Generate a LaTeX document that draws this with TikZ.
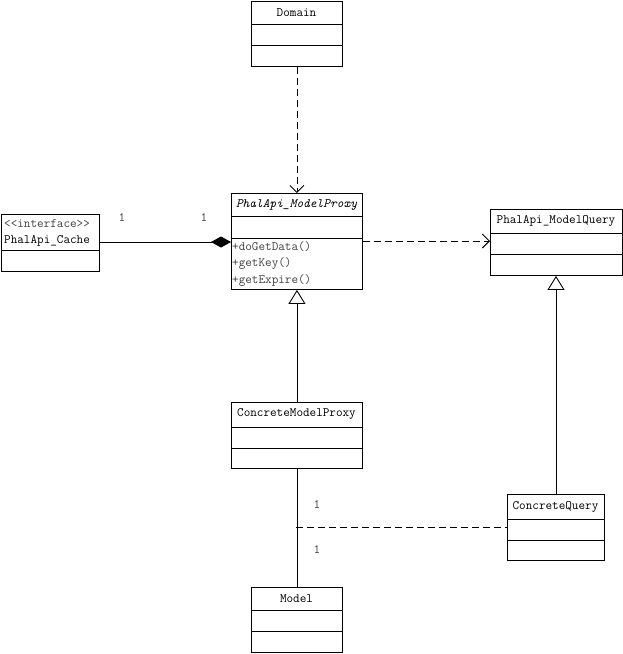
\documentclass[tikz,border=0pt]{standalone}
\usepackage{fontspec}
\usetikzlibrary{arrows.meta}
\begin{document}
\begin{tikzpicture}[x=1pt,y=-1pt,
  box/.style={draw,line width=0.9pt,inner sep=0pt,anchor=north west},
  cls/.style={font=\ttfamily\fontsize{12.8}{14}\selectfont,inner sep=0pt},
  mem/.style={font=\ttfamily\fontsize{12.8}{14}\selectfont,inner sep=0pt,anchor=west,text=black!75},
  mult/.style={font=\ttfamily\fontsize{12.8}{14}\selectfont,inner sep=0pt,text=black!75},
  conn/.style={line width=0.9pt},
  dep/.style={line width=0.9pt,dash pattern=on 7pt off 4pt,-{Straight Barb[length=7pt,width=14pt,line width=0.9pt]}},
  gen/.style={line width=0.9pt,-{Triangle[open,length=14pt,width=17pt,line width=0.9pt,fill=white]}},
  comp/.style={line width=0.9pt,-{Diamond[length=20pt,width=11pt]}}
]
\useasboundingbox (0,0) rectangle (623,654);
% Domain
\node[box,minimum width=91pt,minimum height=65pt] (domain) at (251,1) {};
\draw[conn] (251,24) -- (342,24) (251,45) -- (342,45);
\node[cls] (domainname) at (296.5,12.5) {Domain};
% PhalApi_ModelProxy
\node[box,minimum width=131pt,minimum height=96pt] (proxy) at (231,193) {};
\draw[conn] (231,216) -- (362,216) (231,238) -- (362,238);
\node[cls] (proxyname) at (296.5,204.5) {\itshape PhalApi\_ModelProxy};
\node[mem] (op1) at (232,246.5) {+doGetData()};
\node[mem] (op2) at (232,263.5) {+getKey()};
\node[mem] (op3) at (232,280.5) {+getExpire()};
% PhalApi_Cache
\node[box,minimum width=98pt,minimum height=57pt] (cache) at (1,214) {};
\draw[conn] (1,250) -- (99,250);
\node[mem] (cachest) at (4,223.5) {<{}<interface>{}>};
\node[mem,text=black] (cachename) at (4,240.5) {PhalApi\_Cache};
% PhalApi_ModelQuery
\node[box,minimum width=132pt,minimum height=66pt] (query) at (490,209) {};
\draw[conn] (490,233) -- (622,233) (490,254) -- (622,254);
\node[cls] (queryname) at (556,221) {PhalApi\_ModelQuery};
% ConcreteModelProxy
\node[box,minimum width=131pt,minimum height=66pt] (cproxy) at (231,402) {};
\draw[conn] (231,427) -- (362,427) (231,448) -- (362,448);
\node[cls] (cproxyname) at (296.5,414) {ConcreteModelProxy};
% ConcreteQuery
\node[box,minimum width=97pt,minimum height=66pt] (cquery) at (507,494) {};
\draw[conn] (507,519) -- (604,519) (507,540) -- (604,540);
\node[cls] (cqueryname) at (555.5,507) {ConcreteQuery};
% Model
\node[box,minimum width=91pt,minimum height=65pt] (model) at (251,587) {};
\draw[conn] (251,610) -- (342,610) (251,631) -- (342,631);
\node[cls] (modelname) at (296.5,598.5) {Model};
% connectors
\draw[dep] (domain.south) -- (proxy.north);
\draw[comp] (cache.east |- 0,242) -- (proxy.west |- 0,242);
\node[mult] (m1) at (122,218) {1};
\node[mult] (m2) at (204,218) {1};
\draw[dep] (proxy.east |- 0,241) -- (query.west |- 0,241);
\draw[gen] (cproxy.north) -- (proxy.south);
\draw[gen] (cquery.north -| 556,0) -- (query.south -| 556,0);
\draw[conn] (cproxy.south) -- (model.north);
\coordinate (junc) at (296,527);
\draw[line width=0.9pt,dash pattern=on 7pt off 4pt] (junc) -- (cquery.west |- junc);
\node[mult] (m3) at (317,505) {1};
\node[mult] (m4) at (317,550) {1};
\end{tikzpicture}
\end{document}
